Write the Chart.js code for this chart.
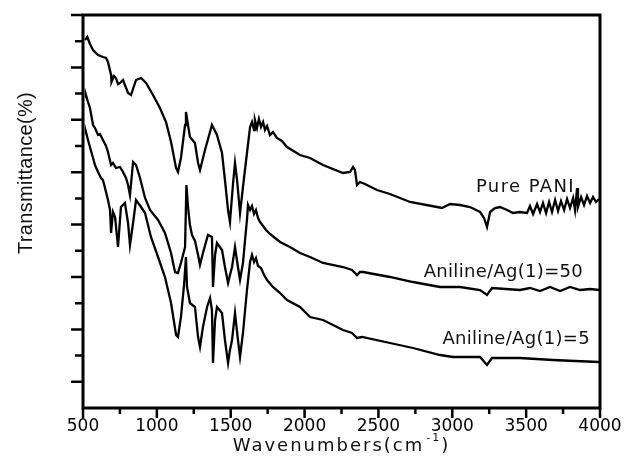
<!DOCTYPE html>
<html lang="en">
<head>
<meta charset="UTF-8">
<title>FTIR spectra of PANI samples</title>
<script src="https://cdn.jsdelivr.net/npm/chart.js"></script>
<style>
  html, body { margin: 0; padding: 0; background: #fff; }
  #wrap { width: 624px; height: 469px; }
</style>
</head>
<body>
<div id="wrap"><canvas id="ftirChart" width="624" height="469"></canvas></div>
<script>
// Wavenumber (cm-1) and transmittance (arbitrary units)
const seriesLabels = ['Pure PANI', 'Aniline/Ag(1)=50', 'Aniline/Ag(1)=5'];
const xTickValues = [500, 1000, 1500, 2000, 2500, 3000, 3500, 4000];

const pureWn = [
  514, 529, 547, 568, 602, 635, 656, 669, 690, 693,
  710, 723, 737, 750, 771, 805, 825, 859, 893, 927,
  974, 1021, 1062, 1096, 1130, 1143, 1163, 1191, 1197, 1224,
  1258, 1279, 1292, 1326, 1373, 1407, 1441, 1461, 1482, 1495,
  1516, 1529, 1543, 1563, 1583, 1610, 1631, 1644, 1658, 1664,
  1678, 1691, 1705, 1719, 1732, 1746, 1766, 1786, 1813, 1847,
  1881, 1969, 2037, 2125, 2260, 2308, 2328, 2341, 2355, 2375,
  2409, 2490, 2578, 2714, 2897, 2930, 2985, 3052, 3120, 3188,
  3215, 3235, 3256, 3289, 3323, 3371, 3411, 3458, 3506, 3526,
  3547, 3574, 3594, 3614, 3635, 3655, 3675, 3696, 3716, 3736,
  3757, 3777, 3797, 3818, 3831, 3845, 3851, 3872, 3892, 3912,
  3933, 3953, 3973, 3994
];
const pureT = [
  368, 371, 364, 358, 353, 351, 350, 346, 333, 326,
  332, 330, 324, 325, 328, 315, 313, 328, 330, 325,
  313, 300, 286, 266, 240, 236, 250, 283, 296, 271,
  265, 245, 238, 258, 283, 273, 255, 228, 198, 186,
  225, 245, 228, 195, 221, 255, 281, 286, 278, 288,
  280, 289, 281, 286, 278, 282, 273, 276, 270, 267,
  261, 253, 250, 243, 235, 236, 241, 238, 223, 226,
  224, 218, 214, 206, 201, 200, 204, 203, 201, 196,
  190, 181, 196, 200, 201, 198, 195, 196, 195, 202,
  194, 204, 196, 205, 195, 206, 196, 208, 197, 207,
  198, 209, 200, 210, 198, 220, 201, 211, 203, 212,
  205, 211, 206, 209
];

const ag50Wn = [
  514, 520, 534, 547, 568, 581, 602, 615, 635, 656,
  669, 690, 703, 723, 750, 771, 791, 805, 818, 839,
  859, 886, 920, 954, 1008, 1055, 1096, 1123, 1143, 1163,
  1191, 1200, 1211, 1224, 1238, 1258, 1279, 1292, 1312, 1346,
  1373, 1380, 1394, 1407, 1441, 1461, 1482, 1495, 1509, 1529,
  1549, 1563, 1583, 1597, 1610, 1617, 1631, 1644, 1658, 1671,
  1685, 1698, 1719, 1739, 1766, 1800, 1834, 1901, 1969, 2037,
  2125, 2260, 2321, 2355, 2375, 2396, 2578, 2734, 2917, 3052,
  3188, 3235, 3269, 3458, 3526, 3594, 3662, 3730, 3797, 3865,
  3933, 3994
];
const ag50T = [
  311, 313, 306, 300, 283, 280, 273, 274, 268, 262,
  256, 243, 245, 240, 241, 236, 230, 223, 213, 246,
  243, 230, 210, 198, 188, 175, 155, 136, 135, 145,
  161, 223, 201, 183, 173, 167, 153, 143, 155, 173,
  171, 121, 153, 165, 158, 141, 125, 133, 141, 161,
  141, 128, 145, 168, 188, 203, 198, 202, 194, 198,
  190, 186, 182, 178, 174, 170, 166, 161, 155, 151,
  145, 141, 138, 133, 136, 136, 131, 126, 121, 121,
  118, 113, 120, 118, 120, 117, 121, 117, 121, 118,
  119, 118
];

const ag5Wn = [
  514, 520, 534, 547, 568, 581, 602, 622, 635, 649,
  669, 683, 690, 703, 717, 737, 757, 784, 805, 818,
  839, 859, 893, 920, 960, 1008, 1055, 1096, 1130, 1143,
  1163, 1184, 1197, 1204, 1224, 1258, 1279, 1292, 1312, 1340,
  1360, 1373, 1380, 1394, 1407, 1441, 1461, 1482, 1495, 1509,
  1529, 1549, 1563, 1583, 1610, 1631, 1644, 1658, 1671, 1685,
  1705, 1726, 1746, 1786, 1834, 1881, 1969, 2037, 2125, 2260,
  2321, 2355, 2389, 2578, 2734, 2917, 3005, 3188, 3235, 3269,
  3458, 3682, 3831, 3994
];
const ag5T = [
  275, 276, 268, 261, 250, 243, 236, 230, 228, 220,
  208, 198, 175, 196, 191, 161, 201, 205, 185, 163,
  185, 208, 201, 195, 171, 151, 131, 105, 73, 71,
  91, 123, 151, 121, 105, 101, 71, 61, 81, 101,
  110, 98, 45, 88, 101, 95, 68, 45, 58, 68,
  95, 68, 51, 75, 118, 146, 153, 146, 150, 142,
  140, 133, 128, 121, 115, 108, 101, 91, 88, 78,
  75, 70, 71, 65, 60, 53, 51, 51, 43, 50,
  50, 48, 47, 46
];

// y axis has unlabelled ticks: 15 equal steps over 0..393
const yMax = 393;
const yTickStep = 26.2;

// where each curve's name sits (right edge, baseline) in data units
const labelAnchors = [
  { wn: 3831, t: 216, spacing: '1.4px' },
  { wn: 3885, t: 131, spacing: '0.3px' },
  { wn: 3932, t: 64, spacing: '0.3px' }
];

function toPoints(xs, ys) {
  return xs.map((x, i) => ({ x: x, y: ys[i] }));
}

// frame, Origin-style tick marks, axis titles and curve names
const frameAndTicks = {
  id: 'frameAndTicks',
  afterDraw(chart) {
    const { ctx, chartArea: a, scales: { x, y } } = chart;
    ctx.save();
    ctx.strokeStyle = '#000';
    ctx.fillStyle = '#111';

    // x ticks, major at labels and minor halfway
    ctx.lineWidth = 2.5;
    ctx.beginPath();
    xTickValues.forEach((v, i) => {
      const px = x.getPixelForValue(v);
      ctx.moveTo(px, a.bottom);
      ctx.lineTo(px, a.bottom + 10);
      if (i < xTickValues.length - 1) {
        const mx = x.getPixelForValue((v + xTickValues[i + 1]) / 2);
        ctx.moveTo(mx, a.bottom);
        ctx.lineTo(mx, a.bottom + 6);
      }
    });
    // y ticks, alternating long and short
    for (let i = 1; i * yTickStep <= yMax + 0.5; i++) {
      const py = y.getPixelForValue(i * yTickStep);
      const len = i % 2 === 1 ? 12 : 8;
      ctx.moveTo(a.left, py);
      ctx.lineTo(a.left - len, py);
    }
    ctx.stroke();

    ctx.lineWidth = 3;
    ctx.strokeRect(a.left, a.top, a.right - a.left, a.bottom - a.top);

    // x title with superscript
    ctx.textBaseline = 'alphabetic';
    ctx.textAlign = 'left';
    ctx.letterSpacing = '2px';
    ctx.font = '18px "DejaVu Sans"';
    const main = 'Wavenumbers(cm';
    const w1 = ctx.measureText(main).width;
    ctx.font = '11px "DejaVu Sans"';
    const sup = '-1';
    const w2 = ctx.measureText(sup).width + 2;
    ctx.font = '18px "DejaVu Sans"';
    const w3 = ctx.measureText(')').width;
    let tx = (a.left + a.right) / 2 - (w1 + w2 + w3) / 2;
    ctx.fillText(main, tx, 451);
    ctx.font = '11px "DejaVu Sans"';
    ctx.fillText(sup, tx + w1 + 2, 441);
    ctx.font = '18px "DejaVu Sans"';
    ctx.fillText(')', tx + w1 + w2, 451);

    // y title
    ctx.save();
    ctx.translate(32, 173);
    ctx.rotate(-Math.PI / 2);
    ctx.textAlign = 'center';
    ctx.letterSpacing = '0.3px';
    ctx.font = '20px "Liberation Sans"';
    ctx.fillText('Transmittance(%)', 0, 0);
    ctx.restore();

    // curve names
    ctx.textAlign = 'right';
    ctx.font = '18px "DejaVu Sans"';
    labelAnchors.forEach((l, i) => {
      ctx.letterSpacing = l.spacing;
      ctx.fillText(seriesLabels[i], x.getPixelForValue(l.wn), y.getPixelForValue(l.t));
    });
    ctx.restore();
  }
};

const lineStyle = {
  borderColor: '#000',
  borderWidth: 2.3,
  pointRadius: 0,
  tension: 0,
  fill: false
};

new Chart(document.getElementById('ftirChart'), {
  type: 'line',
  data: {
    datasets: [
      Object.assign({ label: seriesLabels[0], data: toPoints(pureWn, pureT) }, lineStyle),
      Object.assign({ label: seriesLabels[1], data: toPoints(ag50Wn, ag50T) }, lineStyle),
      Object.assign({ label: seriesLabels[2], data: toPoints(ag5Wn, ag5T) }, lineStyle)
    ]
  },
  options: {
    responsive: false,
    animation: false,
    devicePixelRatio: 1,
    layout: { padding: { left: 83, right: 24, top: 15, bottom: 0 } },
    plugins: {
      legend: { display: false },
      tooltip: { enabled: false }
    },
    scales: {
      x: {
        type: 'linear',
        min: 500,
        max: 4000,
        afterFit(s) { s.height = 61; s.paddingLeft = 0; s.paddingRight = 0; },
        afterBuildTicks(s) { s.ticks = xTickValues.map(v => ({ value: v })); },
        grid: { display: false, drawTicks: false },
        border: { display: false },
        ticks: {
          autoSkip: false,
          maxRotation: 0,
          padding: 8,
          color: '#000',
          font: { family: 'DejaVu Sans', size: 17 },
          callback: v => String(v)
        }
      },
      y: { display: false, min: 0, max: yMax }
    }
  },
  plugins: [frameAndTicks]
});
</script>
</body>
</html>
